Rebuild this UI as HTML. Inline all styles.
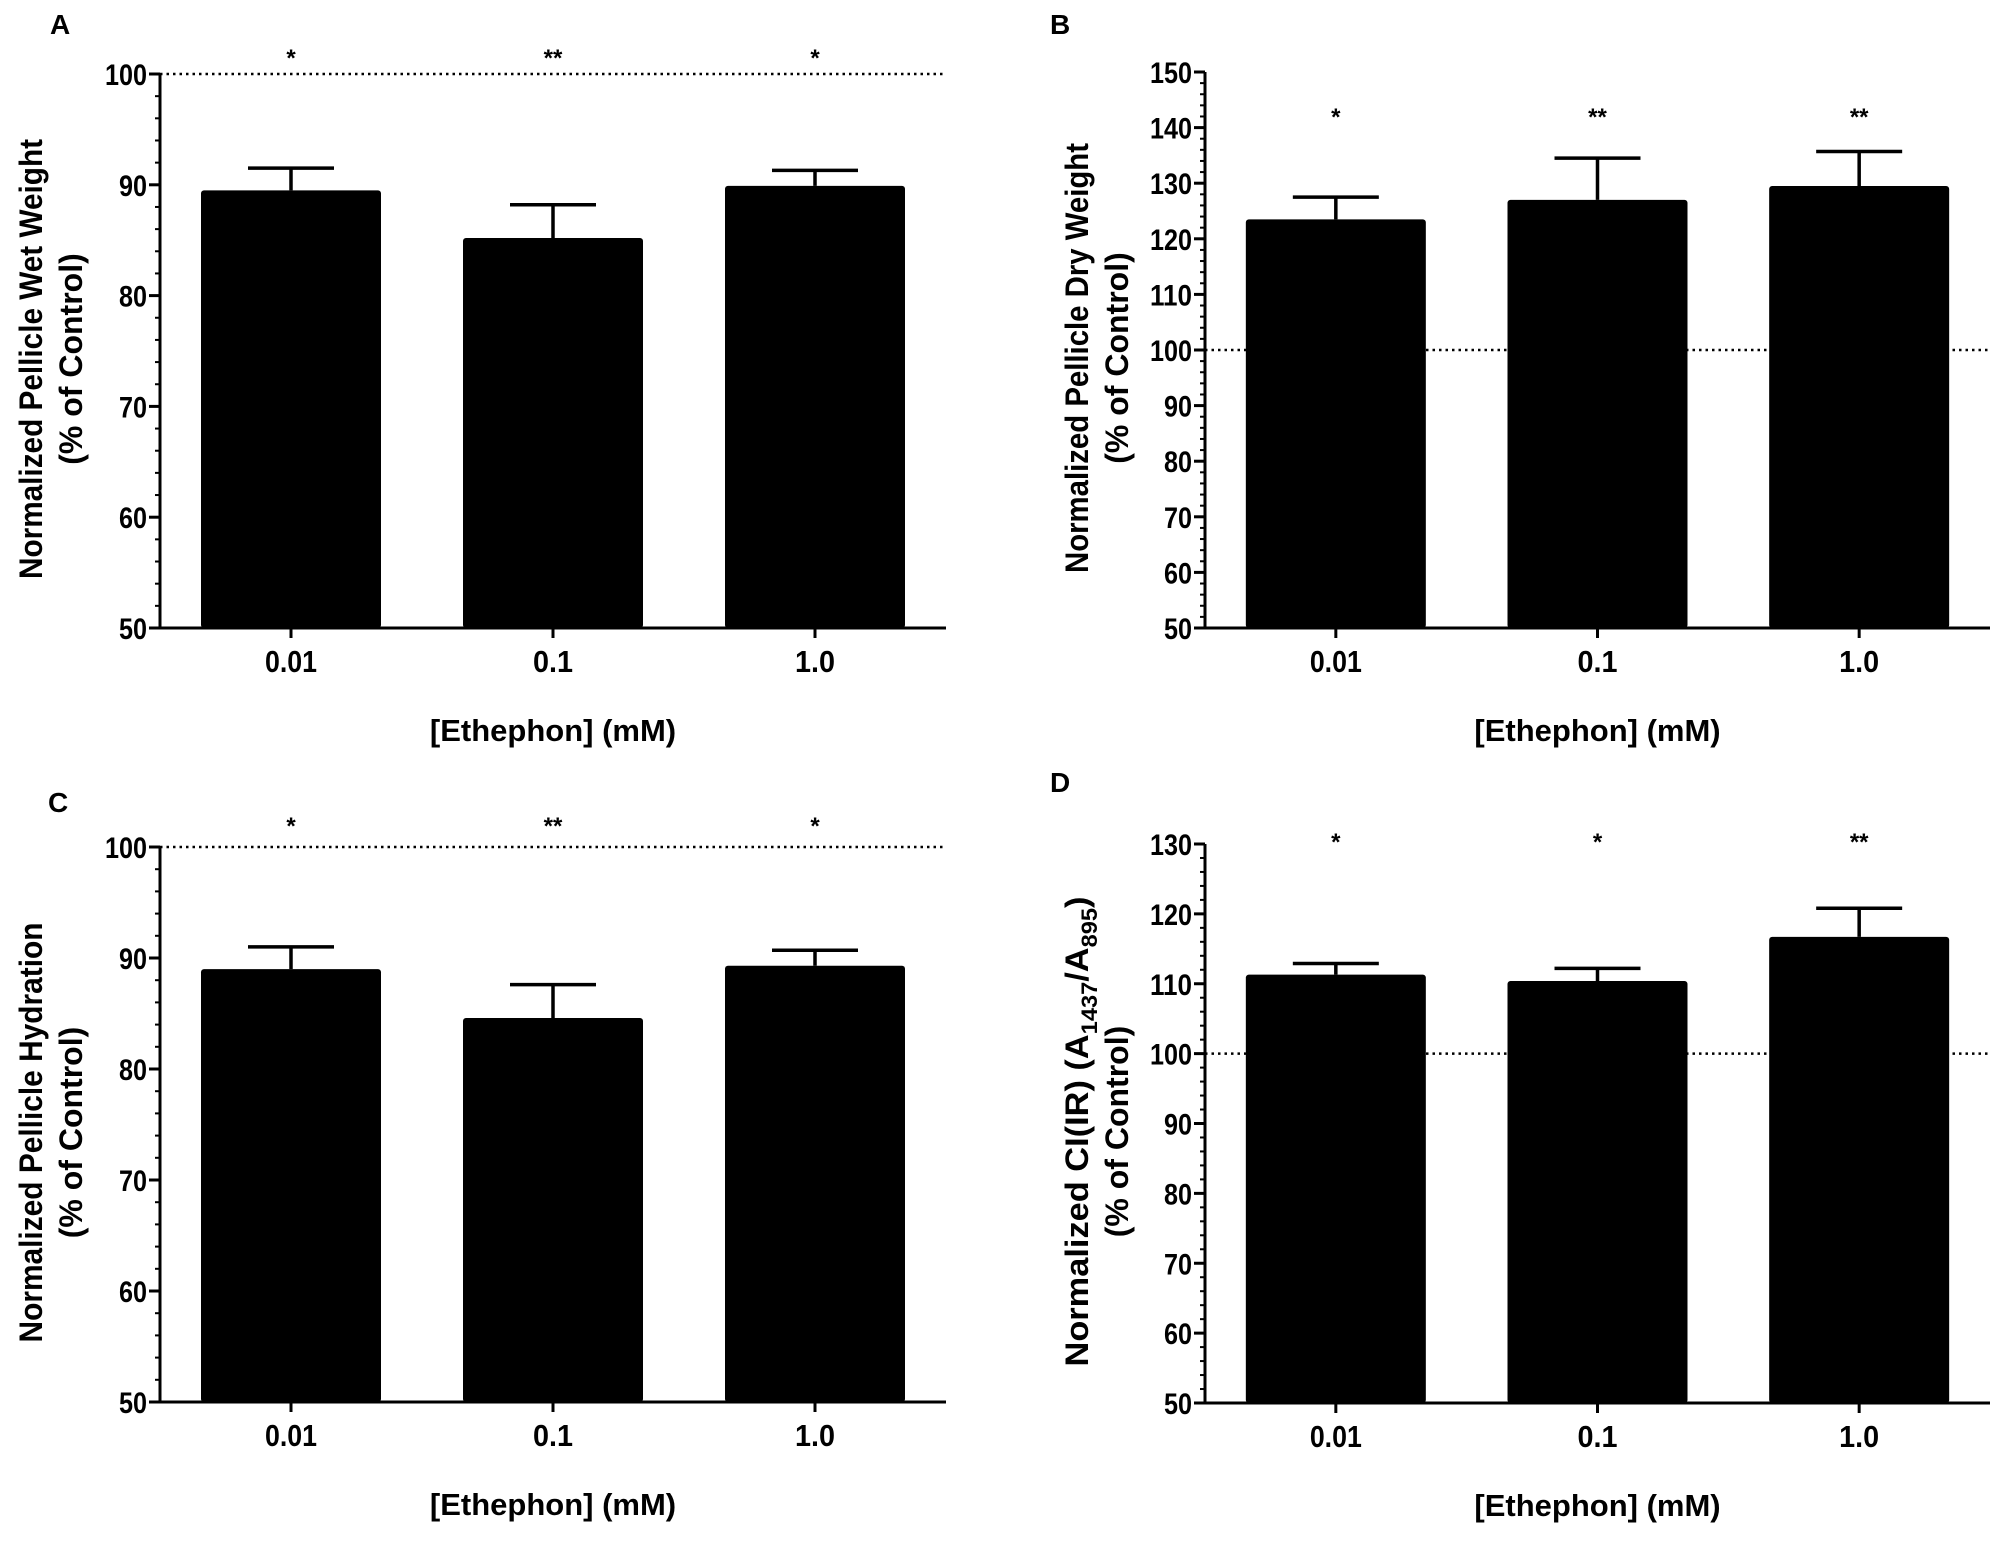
<!DOCTYPE html>
<html><head><meta charset="utf-8"><style>
html,body{margin:0;padding:0;background:#fff}
svg{display:block}
text{font-family:"Liberation Sans",Arial,sans-serif;font-weight:bold;fill:#000}
</style></head><body>
<svg id="fig" width="2000" height="1552" viewBox="0 0 2000 1552"></svg>
<script>
const categories = ["0.01", "0.1", "1.0"];
const valuesA = [89.5, 85.2, 89.9];
const errA = [2.0, 3.0, 1.4];
const starsA = ["*", "**", "*"];
const valuesB = [123.5, 127.0, 129.5];
const errB = [4.0, 7.5, 6.2];
const starsB = ["*", "**", "**"];
const valuesC = [89.0, 84.6, 89.3];
const errC = [2.0, 3.0, 1.4];
const starsC = ["*", "**", "*"];
const valuesD = [111.3, 110.4, 116.7];
const errD = [1.6, 1.8, 4.1];
const starsD = ["*", "*", "**"];
const ticksA = [50, 60, 70, 80, 90, 100];
const ticksB = [50, 60, 70, 80, 90, 100, 110, 120, 130, 140, 150];
const ticksD = [50, 60, 70, 80, 90, 100, 110, 120, 130];

const NS = "http://www.w3.org/2000/svg";
const svg = document.getElementById("fig");
function mk(tag, attrs, parent) {
  const e = document.createElementNS(NS, tag);
  for (const k in attrs) e.setAttribute(k, attrs[k]);
  (parent || svg).appendChild(e);
  return e;
}

function panel(o) {
  const g = mk("g", {});
  
  
  const y = v => o.y0 - (v - o.vmin) / (o.vmax - o.vmin) * (o.y0 - o.y1);
  const band = (o.xEnd - o.xAxis) / categories.length;
  const cx = i => o.xAxis + band * (i + 0.5);
  const bw = 180;
  const pl = mk("text", {x: o.labX, y: o.labY, "font-size": 28}, g);
  pl.textContent = o.id;
  
  
  const rl = mk("line", {x1: o.xAxis, x2: o.xEnd, y1: y(100), y2: y(100), stroke: "#000", "stroke-width": 2.5, "stroke-dasharray": "2.5 4"}, g);
  
  
  o.vals.forEach((v, i) => {
    const b = mk("rect", {x: cx(i) - bw / 2, y: y(v), width: bw, height: o.y0 - y(v), fill: "#000", rx: 3}, g);
    
    
    const top = y(v + o.err[i]);
    const eb = mk("path", {d: `M${cx(i)} ${y(v)} V${top} M${cx(i) - 43} ${top} H${cx(i) + 43}`, stroke: "#000", "stroke-width": 3.5, fill: "none"}, g);
    
    
    const s = mk("text", {x: cx(i), y: o.starY, "font-size": 24, "text-anchor": "middle"}, g);
    s.textContent = o.stars[i];
    
    
    const tl = mk("text", {x: cx(i), y: o.y0 + 44, "font-size": 31, "text-anchor": "middle", textLength: categories[i].length > 3 ? 52 : 40, lengthAdjust: "spacingAndGlyphs"}, g);
    tl.textContent = categories[i];
    
    
    mk("line", {x1: cx(i), x2: cx(i), y1: o.y0, y2: o.y0 + 10, stroke: "#000", "stroke-width": 3}, g);
  });
  const ax = mk("path", {d: `M${o.xAxis} ${o.y1} V${o.y0} M${o.xAxis - 6} ${o.y0} H${o.xEnd}`, stroke: "#000", "stroke-width": 3, fill: "none"}, g);
  
  
  for (let v = o.vmin; v <= o.vmax; v += 2) {
    mk("line", {x1: o.xAxis - 5, x2: o.xAxis, y1: y(v), y2: y(v), stroke: "#000", "stroke-width": 2}, g);
  }
  o.ticks.forEach(t => {
    mk("line", {x1: o.xAxis - 11, x2: o.xAxis, y1: y(t), y2: y(t), stroke: "#000", "stroke-width": 3}, g);
    const lt = mk("text", {x: o.xAxis - 13, y: y(t) + 11, "font-size": 30, "text-anchor": "end", textLength: String(t).length * 14, lengthAdjust: "spacingAndGlyphs"}, g);
    lt.textContent = t;
    
    
  });
  const xt = mk("text", {x: (o.xAxis + o.xEnd) / 2, y: o.y0 + 113, "font-size": 31, "text-anchor": "middle"}, g);
  xt.textContent = "[Ethephon] (mM)";
  
  
  const ymid = (o.y0 + o.y1) / 2 + 8;
  const yt = mk("text", {transform: `translate(${o.titX},${ymid}) rotate(-90)`, "font-size": 32, "text-anchor": "middle", textLength: o.titLen, lengthAdjust: "spacingAndGlyphs"}, g);
  if (o.titleHTML) yt.innerHTML = o.titleHTML; else yt.textContent = o.title;
  
  
  const yt2 = mk("text", {transform: `translate(${o.titX + 40},${ymid}) rotate(-90)`, "font-size": 32, "text-anchor": "middle"}, g);
  yt2.textContent = "(% of Control)";
  
  
}

panel({id: "A", vals: valuesA, err: errA, stars: starsA, ticks: ticksA, vmin: 50, vmax: 100, y0: 628, y1: 74, xAxis: 160, xEnd: 946, starY: 66, labX: 50, labY: 34, titX: 42, titLen: 440, title: "Normalized Pellicle Wet Weight"});
panel({id: "B", vals: valuesB, err: errB, stars: starsB, ticks: ticksB, vmin: 50, vmax: 150, y0: 628, y1: 72, xAxis: 1205, xEnd: 1990, starY: 125, labX: 1050, labY: 34, titX: 1088, titLen: 430, title: "Normalized Pellicle Dry Weight"});
panel({id: "C", vals: valuesC, err: errC, stars: starsC, ticks: ticksA, vmin: 50, vmax: 100, y0: 1402, y1: 847, xAxis: 160, xEnd: 946, starY: 834, labX: 48, labY: 812, titX: 42, titLen: 420, title: "Normalized Pellicle Hydration"});
panel({id: "D", vals: valuesD, err: errD, stars: starsD, ticks: ticksD, vmin: 50, vmax: 130, y0: 1403, y1: 844, xAxis: 1205, xEnd: 1990, starY: 850, labX: 1050, labY: 792, titX: 1088, titLen: 470, titleHTML: 'Normalized CI(IR) (A<tspan font-size="22" dy="9">1437</tspan><tspan dy="-9">/A</tspan><tspan font-size="22" dy="9">895</tspan><tspan dy="-9">)</tspan>'});
</script>
</body></html>
